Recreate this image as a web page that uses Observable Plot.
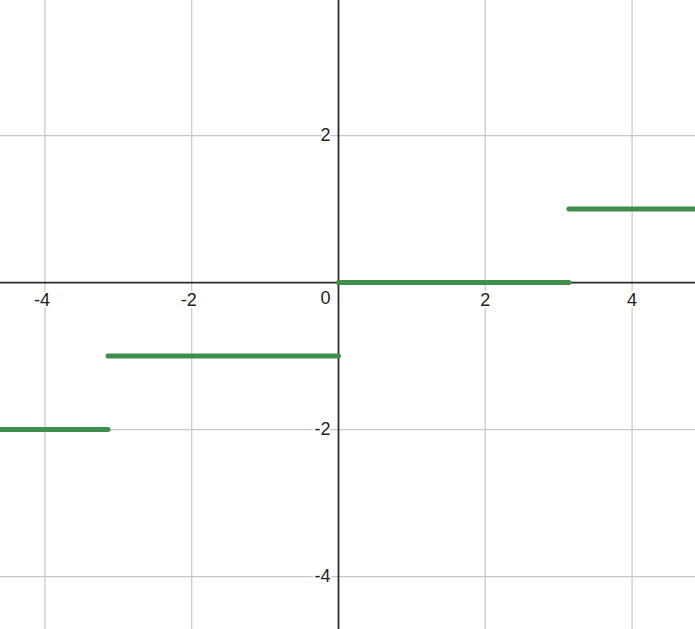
<!DOCTYPE html>
<html>
<head>
<meta charset="utf-8">
<script src="https://cdn.jsdelivr.net/npm/d3@7"></script>
<script src="https://cdn.jsdelivr.net/npm/@observablehq/plot@0.6"></script>
<style>
  html, body { margin: 0; padding: 0; background: #fff; }
  svg { display: block; }
</style>
</head>
<body>
<div id="chart"></div>
<script>
// Step segments of the graphed function (y = floor(x / π))
const segStart = [-6.28, -3.14, 0, 3.14];
const segEnd   = [-3.14, 0, 3.14, 6.28];
const segY     = [-2, -1, 0, 1];

// Grid / tick labels
const xTicks = [-4, -2, 2, 4];
const yTicks = [-4, -2, 2];
const originLabel = ["0"];

const xDomain = [-4.605, 4.864];
const yDomain = [-4.72, 3.837];

const segments = segStart.map((s, i) => ({x1: s, x2: segEnd[i], y: segY[i]}));
const clip = d => ({...d, x1: Math.max(d.x1, xDomain[0] - 0.2), x2: Math.min(d.x2, xDomain[1] + 0.2)});

const font = "'Liberation Sans', Arial, sans-serif";
const labelStyle = {fontSize: 18, fill: "#222", stroke: "#fff", strokeWidth: 4};

const chart = Plot.plot({
  width: 695,
  height: 629,
  margin: 0,
  x: {domain: xDomain, axis: null},
  y: {domain: yDomain, axis: null},
  style: {fontFamily: font, background: "#fff"},
  marks: [
    Plot.ruleX(xTicks, {stroke: "#c8c8c8", strokeWidth: 1.2}),
    Plot.ruleY(yTicks, {stroke: "#c8c8c8", strokeWidth: 1.2}),
    Plot.ruleX([0], {stroke: "#2b2b2b", strokeWidth: 1.8}),
    Plot.ruleY([0], {stroke: "#2b2b2b", strokeWidth: 1.8}),
    Plot.link(segments.map(clip), {
      x1: "x1", x2: "x2", y1: "y", y2: "y",
      stroke: "#3f8e4c", strokeWidth: 5, strokeLinecap: "round"
    }),
    Plot.text(xTicks.filter(d => d < 0), {
      x: d => d, y: 0, text: d => String(d), dy: 18, dx: -3,
      textAnchor: "middle", ...labelStyle
    }),
    Plot.text(xTicks.filter(d => d > 0), {
      x: d => d, y: 0, text: d => String(d), dy: 18,
      textAnchor: "middle", ...labelStyle
    }),
    Plot.text(yTicks, {
      x: 0, y: d => d, text: d => String(d), dx: -8,
      textAnchor: "end", ...labelStyle
    }),
    Plot.text(originLabel, {
      x: 0, y: 0, text: d => d, dx: -8, dy: 16,
      textAnchor: "end", ...labelStyle
    })
  ]
});
document.getElementById("chart").appendChild(chart);
</script>
</body>
</html>
